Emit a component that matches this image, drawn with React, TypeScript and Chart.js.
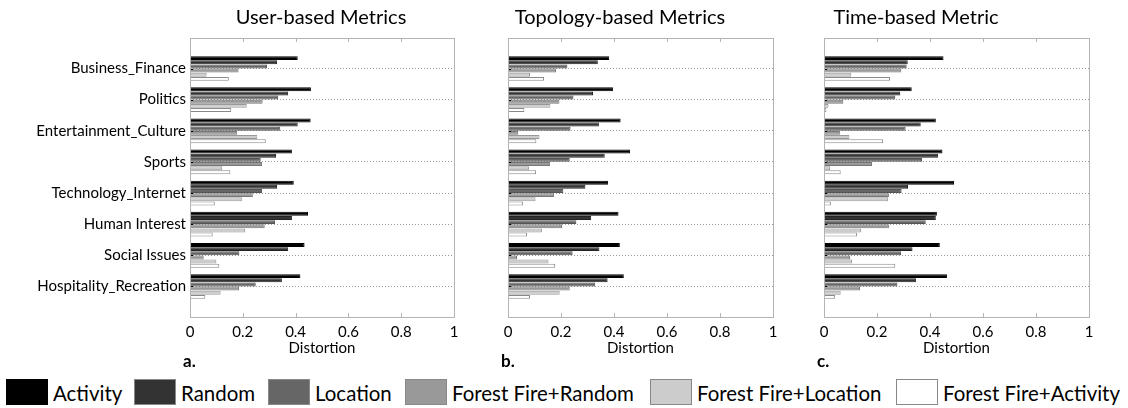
import React, { useEffect, useRef } from "react";
import { Chart, registerables } from "chart.js";

Chart.register(...registerables);

const categories = [
  "Business_Finance",
  "Politics",
  "Entertainment_Culture",
  "Sports",
  "Technology_Internet",
  "Human Interest",
  "Social Issues",
  "Hospitality_Recreation",
];

const seriesNames = [
  "Activity",
  "Random",
  "Location",
  "Forest Fire+Random",
  "Forest Fire+Location",
  "Forest Fire+Activity",
];
const seriesFill = ["#000000", "#333333", "#666666", "#999999", "#cccccc", "#ffffff"];
const seriesBorder = ["#000000", "#222222", "#555555", "#777777", "#9a9a9a", "#8a8a8a"];

const xTicks = [0, 0.2, 0.4, 0.6, 0.8, 1];

// User-based Metrics
const userActivity = [0.408, 0.458, 0.457, 0.386, 0.393, 0.447, 0.434, 0.418];
const userRandom = [0.330, 0.372, 0.408, 0.326, 0.330, 0.386, 0.372, 0.348];
const userLocation = [0.292, 0.334, 0.342, 0.268, 0.273, 0.322, 0.187, 0.249];
const userFFRandom = [0.184, 0.275, 0.179, 0.273, 0.238, 0.283, 0.052, 0.186];
const userFFLocation = [0.063, 0.215, 0.255, 0.122, 0.198, 0.209, 0.100, 0.116];
const userFFActivity = [0.147, 0.156, 0.287, 0.153, 0.094, 0.086, 0.111, 0.058];

// Topology-based Metrics
const topoActivity = [0.382, 0.396, 0.425, 0.461, 0.378, 0.417, 0.422, 0.437];
const topoRandom = [0.339, 0.321, 0.343, 0.365, 0.292, 0.314, 0.345, 0.376];
const topoLocation = [0.224, 0.247, 0.236, 0.233, 0.209, 0.258, 0.244, 0.329];
const topoFFRandom = [0.181, 0.194, 0.039, 0.159, 0.174, 0.204, 0.034, 0.233];
const topoFFLocation = [0.083, 0.160, 0.119, 0.079, 0.104, 0.128, 0.153, 0.195];
const topoFFActivity = [0.136, 0.062, 0.107, 0.106, 0.057, 0.072, 0.178, 0.083];

// Time-based Metric
const timeActivity = [0.451, 0.331, 0.422, 0.447, 0.491, 0.426, 0.437, 0.464];
const timeRandom = [0.316, 0.288, 0.365, 0.430, 0.317, 0.422, 0.334, 0.347];
const timeLocation = [0.312, 0.269, 0.308, 0.370, 0.293, 0.384, 0.291, 0.277];
const timeFFRandom = [0.292, 0.073, 0.060, 0.181, 0.245, 0.245, 0.098, 0.136];
const timeFFLocation = [0.103, 0.017, 0.096, 0.023, 0.242, 0.140, 0.106, 0.063];
const timeFFActivity = [0.249, 0.009, 0.223, 0.063, 0.026, 0.125, 0.269, 0.042];

const userSeries = [userActivity, userRandom, userLocation, userFFRandom, userFFLocation, userFFActivity];
const topoSeries = [topoActivity, topoRandom, topoLocation, topoFFRandom, topoFFLocation, topoFFActivity];
const timeSeries = [timeActivity, timeRandom, timeLocation, timeFFRandom, timeFFLocation, timeFFActivity];

const FONT = "Lato, 'Open Sans', sans-serif";
const CANVAS_H = 372;

type PanelProps = {
  series: number[][];
  title: string;
  letter: string;
  left: number;
  width: number;
  yWidth: number;
  padRight: number;
  titleX: number;
  showLabels: boolean;
};

function makeFramePlugin(title: string, titleX: number, letter: string) {
  return {
    id: "frameDecor",
    afterDraw(chart: any) {
      const { ctx, chartArea: a, scales } = chart;
      ctx.save();
      // y small ticks
      const ys = scales.y;
      ctx.strokeStyle = "#000";
      ctx.lineWidth = 1;
      categories.forEach((_, i) => {
        const py = Math.round(ys.getPixelForValue(i)) + 0.5;
        ctx.beginPath();
        ctx.moveTo(a.left, py);
        ctx.lineTo(a.left + 3, py);
        ctx.stroke();
      });
      // frame
      ctx.strokeStyle = "#b4b4b4";
      ctx.lineWidth = 1;
      ctx.strokeRect(Math.round(a.left) + 0.5, Math.round(a.top) + 0.5, Math.round(a.right - a.left), Math.round(a.bottom - a.top));
      // inner ticks on x
      const xs = scales.x;
      xTicks.forEach((v) => {
        const px = Math.round(xs.getPixelForValue(v)) + 0.5;
        ctx.beginPath();
        ctx.moveTo(px, a.top);
        ctx.lineTo(px, a.top + 4);
        ctx.moveTo(px, a.bottom);
        ctx.lineTo(px, a.bottom - 4);
        ctx.stroke();
      });
      // title
      ctx.fillStyle = "#000";
      ctx.font = `20px ${FONT}`;
      ctx.textAlign = "center";
      ctx.textBaseline = "middle";
      ctx.fillText(title, titleX, 18);
      // panel letter
      ctx.font = `bold 17px ${FONT}`;
      ctx.textAlign = "left";
      ctx.fillText(letter, a.left - 7, 362);
      ctx.restore();
    },
  };
}

function Panel(p: PanelProps) {
  const ref = useRef<HTMLCanvasElement | null>(null);
  useEffect(() => {
    if (!ref.current) return;
    const chart = new Chart(ref.current, {
      type: "bar",
      data: {
        datasets: p.series.map((vals, k) => ({
          label: seriesNames[k],
          data: vals.map((v, i) => ({ x: v, y: i })),
          backgroundColor: seriesFill[k],
          borderColor: seriesBorder[k],
          borderWidth: 1,
          categoryPercentage: 0.8,
          barPercentage: 0.95,
        })),
      },
      options: {
        indexAxis: "y",
        animation: false,
        responsive: false,
        events: [],
        layout: { padding: { top: 38, right: p.padRight, left: 0, bottom: 0 } },
        plugins: { legend: { display: false }, tooltip: { enabled: false }, title: { display: false } },
        scales: {
          x: {
            type: "linear",
            min: 0,
            max: 1,
            offset: false,
            afterBuildTicks: (s: any) => {
              s.ticks = xTicks.map((v) => ({ value: v }));
            },
            afterFit: (s: any) => {
              s.height = CANVAS_H - 317;
            },
            grid: { display: false, drawTicks: false, offset: false },
            border: { display: false },
            ticks: {
              padding: 6,
              color: "#000",
              font: { family: FONT, size: 15 },
              callback: (v: any) => String(Number(v)),
            },
            title: {
              display: true,
              text: "Distortion",
              color: "#000",
              font: { family: FONT, size: 15 },
              padding: { top: 0, bottom: 15 },
            },
          },
          y: {
            type: "linear",
            reverse: true,
            offset: false,
            min: -0.98,
            max: 7.98,
            afterBuildTicks: (s: any) => {
              s.ticks = categories.map((_, i) => ({ value: i }));
            },
            afterFit: (s: any) => {
              s.width = p.yWidth;
            },
            grid: { color: "#9a9a9a", lineWidth: 1, drawTicks: false, offset: false },
            border: { display: false, dash: [1, 2] },
            ticks: {
              display: p.showLabels,
              padding: 4,
              color: "#000",
              autoSkip: false,
              font: { family: FONT, size: 15 },
              callback: (v: any) => categories[Math.round(Number(v))] ?? "",
            },
          },
        },
      } as any,
      plugins: [makeFramePlugin(p.title, p.titleX, p.letter)],
    });
    return () => chart.destroy();
  }, []);
  return (
    <canvas
      ref={ref}
      width={p.width}
      height={CANVAS_H}
      style={{ position: "absolute", left: p.left, top: 0, width: p.width, height: CANVAS_H }}
    />
  );
}

const legendLeft = [6, 134, 268, 405, 650, 896];

export default function App() {
  useEffect(() => {
    document.body.style.margin = "0";
  }, []);
  return (
    <div style={{ position: "relative", width: 1128, height: 408, background: "#fff", overflow: "hidden" }}>
      <Panel series={userSeries} title="User-based Metrics" letter="a." left={0} width={470} yWidth={190} padRight={16} titleX={321} showLabels={true} />
      <Panel series={topoSeries} title="Topology-based Metrics" letter="b." left={480} width={310} yWidth={28} padRight={17} titleX={140} showLabels={false} />
      <Panel series={timeSeries} title="Time-based Metric" letter="c." left={800} width={310} yWidth={24} padRight={21} titleX={116} showLabels={false} />
      {seriesNames.map((name, k) => (
        <div
          key={name}
          style={{
            position: "absolute",
            left: legendLeft[k],
            top: 378,
            height: 28,
            display: "flex",
            alignItems: "center",
            whiteSpace: "nowrap",
          }}
        >
          <div
            style={{
              width: 42,
              height: 26,
              boxSizing: "border-box",
              background: seriesFill[k],
              border: `1px solid ${k === 0 ? "#000" : "#888"}`,
            }}
          />
          <span
            style={{
              marginLeft: 5,
              fontFamily: FONT,
              fontSize: 22,
              color: "#000",
              display: "inline-block",
              transform: "scaleX(0.93)",
              transformOrigin: "left center",
            }}
          >
            {name}
          </span>
        </div>
      ))}
    </div>
  );
}
